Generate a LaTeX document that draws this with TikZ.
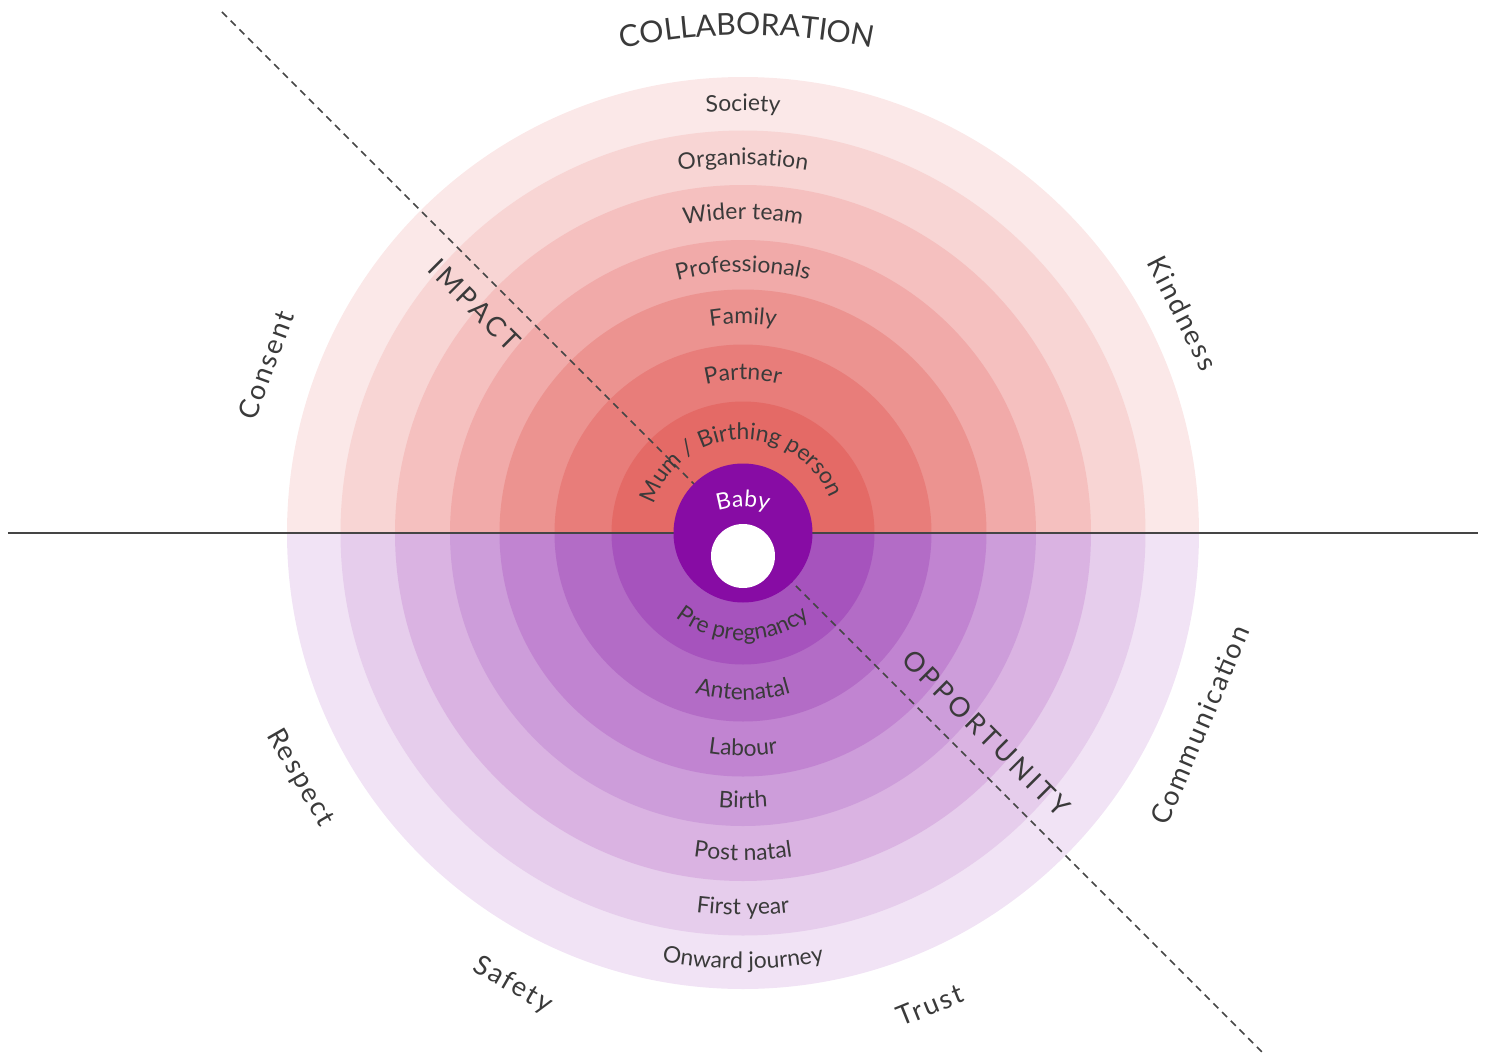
\documentclass[tikz,border=0pt]{standalone}
\usepackage{fontspec}
\setmainfont{Lato}
\newfontfamily\spacedfont[LetterSpace=8]{Lato}
\newfontfamily\widefont[LetterSpace=12]{Lato}
\usetikzlibrary{decorations.text}

\definecolor{inkgrey}{HTML}{3A3A3A}
\definecolor{linegrey}{HTML}{454545}
\definecolor{pinkA}{HTML}{FBE8E8}
\definecolor{pinkB}{HTML}{F8D5D4}
\definecolor{pinkC}{HTML}{F5C0BF}
\definecolor{pinkD}{HTML}{F1AAA9}
\definecolor{pinkE}{HTML}{EC9390}
\definecolor{pinkF}{HTML}{E87D7A}
\definecolor{pinkG}{HTML}{E46A66}
\definecolor{lilacA}{HTML}{F1E3F5}
\definecolor{lilacB}{HTML}{E6CDEC}
\definecolor{lilacC}{HTML}{DAB3E2}
\definecolor{lilacD}{HTML}{CD9DDA}
\definecolor{lilacE}{HTML}{C184D1}
\definecolor{lilacF}{HTML}{B36CC6}
\definecolor{lilacG}{HTML}{A653BD}
\definecolor{babypurple}{HTML}{870CA4}

\newcommand\ringfont{\fontsize{13}{15}\selectfont\color{inkgrey}}
\newcommand\babyfont{\fontsize{13}{15}\selectfont\color{white}}
\newcommand\wordfont{\spacedfont\fontsize{15.5}{18}\selectfont}
\newcommand\axisfont{\widefont\fontsize{15.5}{18}\selectfont}
\newcommand\topfont{\widefont\fontsize{17.2}{20}\selectfont\color{inkgrey}}

\begin{document}
\begin{tikzpicture}[x=0.02cm, y=0.02cm,
  ringlabel/.style={decorate, decoration={text along path, text align=center, text={|\ringfont|#1}}},
  outerword/.style={font=\wordfont, text=inkgrey, inner sep=0pt},
  axisword/.style={font=\axisfont, text=inkgrey, inner sep=0pt, rotate=-45}]

  \useasboundingbox (-743,-526) rectangle (748,533);
  \coordinate (O) at (0,0);

  % people, outermost first
  \fill[pinkA] (-456,0) arc[start angle=180, end angle=0, radius=456] -- cycle;
  \fill[pinkB] (-402.5,0) arc[start angle=180, end angle=0, radius=402.5] -- cycle;
  \fill[pinkC] (-348,0) arc[start angle=180, end angle=0, radius=348] -- cycle;
  \fill[pinkD] (-293,0) arc[start angle=180, end angle=0, radius=293] -- cycle;
  \fill[pinkE] (-243.5,0) arc[start angle=180, end angle=0, radius=243.5] -- cycle;
  \fill[pinkF] (-188.5,0) arc[start angle=180, end angle=0, radius=188.5] -- cycle;
  \fill[pinkG] (-131.5,0) arc[start angle=180, end angle=0, radius=131.5] -- cycle;

  % stages, outermost first
  \fill[lilacA] (-456,0) arc[start angle=180, end angle=360, radius=456] -- cycle;
  \fill[lilacB] (-402.5,0) arc[start angle=180, end angle=360, radius=402.5] -- cycle;
  \fill[lilacC] (-348,0) arc[start angle=180, end angle=360, radius=348] -- cycle;
  \fill[lilacD] (-293,0) arc[start angle=180, end angle=360, radius=293] -- cycle;
  \fill[lilacE] (-243.5,0) arc[start angle=180, end angle=360, radius=243.5] -- cycle;
  \fill[lilacF] (-188.5,0) arc[start angle=180, end angle=360, radius=188.5] -- cycle;
  \fill[lilacG] (-131.5,0) arc[start angle=180, end angle=360, radius=131.5] -- cycle;

  % axes
  \coordinate (west) at (-735,0);
  \coordinate (east) at (735,0);
  \coordinate (nw) at (-521,521);
  \coordinate (se) at (520,-520);
  \draw[linegrey, line width=1.15pt] (west) -- (east);
  \draw[linegrey, line width=0.9pt, dash pattern=on 4pt off 3pt] (nw) -- (se);

  \fill[babypurple] (O) circle[radius=69.5];
  \fill[white] (0,-23) circle[radius=32];

  % ring labels
  \path[ringlabel={Society}] (180:422) arc[start angle=180, end angle=0, radius=422];
  \path[ringlabel={Organisation}] (180:368) arc[start angle=180, end angle=0, radius=368];
  \path[ringlabel={Wider team}] (180:313.5) arc[start angle=180, end angle=0, radius=313.5];
  \path[ringlabel={Professionals}] (180:261) arc[start angle=180, end angle=0, radius=261];
  \path[ringlabel={Family}] (180:209) arc[start angle=180, end angle=0, radius=209];
  \path[ringlabel={Partner}] (180:153) arc[start angle=180, end angle=0, radius=153];
  \path[ringlabel={Mum / Birthing person}] (184:93.5) arc[start angle=184, end angle=0, radius=93.5];

  \path[ringlabel={Pre pregnancy}] (180:107.5) arc[start angle=180, end angle=360, radius=107.5];
  \path[ringlabel={Antenatal}] (180:167) arc[start angle=180, end angle=360, radius=167];
  \path[ringlabel={Labour}] (180:223) arc[start angle=180, end angle=360, radius=223];
  \path[ringlabel={Birth}] (180:275) arc[start angle=180, end angle=360, radius=275];
  \path[ringlabel={Post natal}] (180:327.5) arc[start angle=180, end angle=360, radius=327.5];
  \path[ringlabel={First year}] (180:382) arc[start angle=180, end angle=360, radius=382];
  \path[ringlabel={Onward journey}] (180:436) arc[start angle=180, end angle=360, radius=436];

  \path[decorate, decoration={text along path, text align=center, text={|\babyfont|Baby}}]
    (0,-57) ++(150:83) arc[start angle=150, end angle=30, radius=83];

  \path[decorate, decoration={text along path, text align=center, text={|\topfont|COLLABORATION}}]
    (4,-102) ++(120:600) arc[start angle=120, end angle=60, radius=600];

  % values round the edge
  \node[outerword, rotate=70] (consent) at (-477,168) {Consent};
  \node[outerword, rotate=-63] (kindness) at (440,220) {Kindness};
  \node[outerword, rotate=67] (communication) at (457,-192) {Communication};
  \node[outerword, rotate=-60] (respect) at (-443,-245) {Respect};
  \node[outerword, rotate=-30] (safety) at (-230,-452) {Safety};
  \node[outerword, rotate=22] (trust) at (187,-472) {Trust};

  \node[axisword] (impact) at (-268,228) {IMPACT};
  \node[axisword] (opportunity) at (243,-200) {OPPORTUNITY};
\end{tikzpicture}
\end{document}
